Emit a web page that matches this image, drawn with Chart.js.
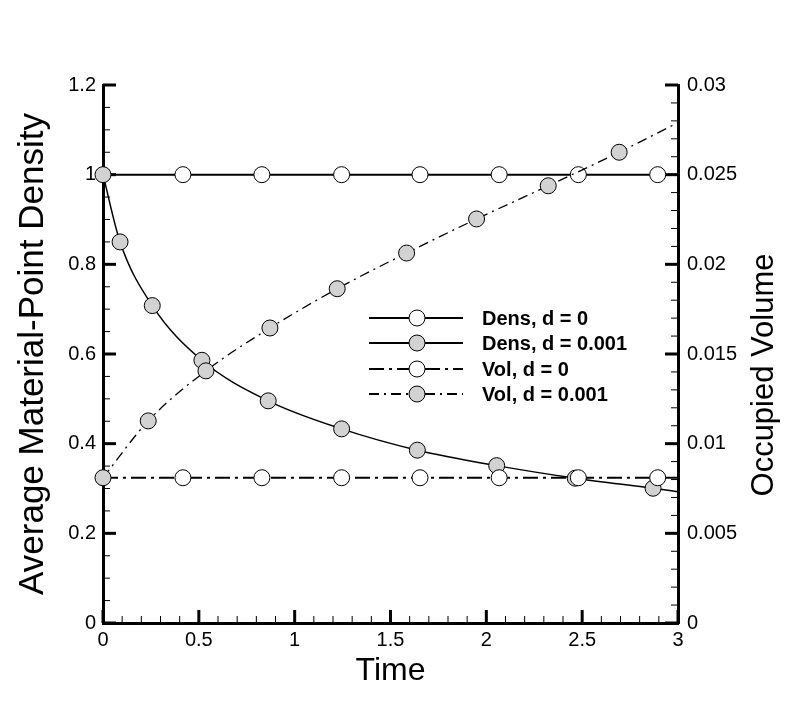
<!DOCTYPE html>
<html>
<head>
<meta charset="utf-8">
<script src="https://cdn.jsdelivr.net/npm/chart.js@4/dist/chart.umd.min.js"></script>
<style>
  html, body { margin: 0; padding: 0; background: #fff; }
  #wrap { width: 790px; height: 702px; }
</style>
</head>
<body>
<div id="wrap"><canvas id="chart"></canvas></div>
<script>
const xTicks = [0, 0.5, 1, 1.5, 2, 2.5, 3]
const densTicks = [0, 0.2, 0.4, 0.6, 0.8, 1, 1.2]
const volTicks = [0, 0.005, 0.01, 0.015, 0.02, 0.025, 0.03]

// d = 0 runs (flat)
const timeFlat = [0, 0.417, 0.829, 1.245, 1.654, 2.067, 2.48, 2.894, 3]
const densFlat = [1, 1, 1, 1, 1, 1, 1, 1, 1]
const volFlat = [0.0081, 0.0081, 0.0081, 0.0081, 0.0081, 0.0081, 0.0081, 0.0081, 0.0081]

// d = 0.001 runs
const timeDens = [0, 0.089, 0.257, 0.516, 0.862, 1.245, 1.64, 2.054, 2.464, 2.87, 3]
const densDamp = [1.0, 0.850, 0.708, 0.586, 0.4955, 0.433, 0.3855, 0.351, 0.323, 0.3006, 0.293]
const timeVol = [0, 0.236, 0.537, 0.871, 1.222, 1.584, 1.949, 2.323, 2.693, 3]
const volDamp = [0.0081, 0.01127, 0.01406, 0.01645, 0.01864, 0.02063, 0.02253, 0.02438, 0.02625, 0.0279]

const labels = ["Dens, d = 0", "Dens, d = 0.001", "Vol, d = 0", "Vol, d = 0.001"]

const FONT = "'Liberation Sans', Arial, sans-serif"
const GRAY = '#d2d2d2'

const toPoints = (xs, ys) => xs.map((x, i) => ({ x: x, y: ys[i] }))
// no marker on the closing point at t = 3
const markerAt = (len) => (ctx) => ctx.dataIndex === len - 1 ? 0 : 8
// flat runs: the t = 0 marker sits under the grey one, so skip it too
const flatMarker = (len) => (ctx) => (ctx.dataIndex === 0 || ctx.dataIndex === len - 1) ? 0 : 8

const setTicks = (values) => (scale) => {
  scale.ticks = values.map(v => ({ value: v }))
}

// inward tick marks, major + minor
const tickMarks = {
  id: 'tickMarks',
  beforeDatasetsDraw(chart) {
    const ctx = chart.ctx
    const area = chart.chartArea
    const defs = [
      { id: 'x', major: xTicks, step: 0.1 },
      { id: 'y', major: densTicks, step: 0.05 },
      { id: 'y2', major: volTicks, step: 0.001 },
    ]
    ctx.save()
    ctx.strokeStyle = '#000'
    defs.forEach(d => {
      const s = chart.scales[d.id]
      const n = Math.round((s.max - s.min) / d.step)
      for (let i = 0; i <= n; i++) {
        const v = s.min + i * d.step
        const isMajor = d.major.some(m => Math.abs(m - v) < d.step / 10)
        const len = isMajor ? 13 : 7
        ctx.lineWidth = isMajor ? 3 : 1
        const p = s.getPixelForValue(v)
        ctx.beginPath()
        if (d.id === 'x') {
          ctx.moveTo(p, area.bottom)
          ctx.lineTo(p, area.bottom - len)
        } else if (d.id === 'y') {
          ctx.moveTo(area.left, p)
          ctx.lineTo(area.left + len, p)
        } else {
          ctx.moveTo(area.right, p)
          ctx.lineTo(area.right - len, p)
        }
        ctx.stroke()
      }
    })
    ctx.restore()
  }
}

// legend inside the plot, line + marker + label
const legendBox = {
  id: 'legendBox',
  afterDraw(chart) {
    const ctx = chart.ctx
    const rows = [318, 343, 369, 394]
    chart.data.datasets.forEach((ds, i) => {
      const y = rows[i]
      ctx.save()
      ctx.strokeStyle = '#000'
      ctx.lineWidth = 2
      ctx.setLineDash(ds.borderDash || [])
      ctx.beginPath()
      ctx.moveTo(369, y)
      ctx.lineTo(409, y)
      ctx.stroke()
      ctx.beginPath()
      ctx.moveTo(425, y)
      ctx.lineTo(463, y)
      ctx.stroke()
      ctx.setLineDash([])
      ctx.beginPath()
      ctx.arc(417, y, 8, 0, Math.PI * 2)
      ctx.fillStyle = ds.pointBackgroundColor
      ctx.fill()
      ctx.lineWidth = 1
      ctx.stroke()
      ctx.fillStyle = '#000'
      ctx.font = 'bold 20px ' + FONT
      ctx.textBaseline = 'middle'
      ctx.fillText(ds.label, 482, y + 1)
      ctx.restore()
    })
  }
}

// right axis title reads bottom to top
const rightTitle = {
  id: 'rightTitle',
  afterDraw(chart) {
    const ctx = chart.ctx
    ctx.save()
    ctx.translate(764, 375)
    ctx.rotate(-Math.PI / 2)
    ctx.fillStyle = '#000'
    ctx.font = '31px ' + FONT
    ctx.textAlign = 'center'
    ctx.textBaseline = 'middle'
    ctx.fillText('Occupied Volume', 0, 0)
    ctx.restore()
  }
}

const axisGrid = { drawOnChartArea: false, drawTicks: false, color: 'rgba(0,0,0,0)' }
const axisBorder = { width: 3, color: '#000' }

new Chart(document.getElementById('chart'), {
  type: 'line',
  data: {
    datasets: [
      {
        label: labels[0],
        data: toPoints(timeFlat, densFlat),
        yAxisID: 'y',
        borderColor: '#000',
        borderWidth: 2,
        pointRadius: flatMarker(timeFlat.length),
        pointBackgroundColor: '#fff',
        pointBorderColor: '#000',
        pointBorderWidth: 1,
        clip: false,
        order: 4
      },
      {
        label: labels[1],
        data: toPoints(timeDens, densDamp),
        yAxisID: 'y',
        borderColor: '#000',
        borderWidth: 1.5,
        cubicInterpolationMode: 'monotone',
        pointRadius: markerAt(timeDens.length),
        pointBackgroundColor: GRAY,
        pointBorderColor: '#000',
        pointBorderWidth: 1,
        clip: false,
        order: 3
      },
      {
        label: labels[2],
        data: toPoints(timeFlat, volFlat),
        yAxisID: 'y2',
        borderColor: '#000',
        borderWidth: 2,
        borderDash: [15, 5, 3, 5],
        pointRadius: flatMarker(timeFlat.length),
        pointBackgroundColor: '#fff',
        pointBorderColor: '#000',
        pointBorderWidth: 1,
        clip: false,
        order: 2
      },
      {
        label: labels[3],
        data: toPoints(timeVol, volDamp),
        yAxisID: 'y2',
        borderColor: '#000',
        borderWidth: 1.3,
        borderDash: [10, 5, 2, 5],
        cubicInterpolationMode: 'monotone',
        pointRadius: markerAt(timeVol.length),
        pointBackgroundColor: GRAY,
        pointBorderColor: '#000',
        pointBorderWidth: 1,
        clip: false,
        order: 1
      }
    ]
  },
  options: {
    responsive: true,
    maintainAspectRatio: false,
    animation: false,
    events: [],
    layout: { padding: { top: 85 } },
    scales: {
      x: {
        type: 'linear',
        position: 'bottom',
        min: 0,
        max: 3,
        afterBuildTicks: setTicks(xTicks),
        afterFit: (s) => { s.height = 79 },
        grid: axisGrid,
        border: axisBorder,
        ticks: {
          color: '#000',
          padding: 5,
          maxRotation: 0,
          autoSkip: false,
          font: { family: FONT, size: 20 },
          callback: (v) => String(v)
        },
        title: {
          display: true,
          text: 'Time',
          color: '#000',
          font: { family: FONT, size: 32 },
          padding: { top: 0, bottom: 12 }
        }
      },
      y: {
        type: 'linear',
        position: 'left',
        min: 0,
        max: 1.2,
        afterBuildTicks: setTicks(densTicks),
        afterFit: (s) => { s.width = 103 },
        grid: axisGrid,
        border: axisBorder,
        ticks: {
          color: '#000',
          padding: 7,
          autoSkip: false,
          font: { family: FONT, size: 20 },
          callback: (v) => String(v)
        },
        title: {
          display: true,
          text: 'Average Material-Point Density',
          color: '#000',
          font: { family: FONT, size: 35 },
          padding: { top: 12, bottom: 0 }
        }
      },
      y2: {
        type: 'linear',
        position: 'right',
        min: 0,
        max: 0.03,
        afterBuildTicks: setTicks(volTicks),
        afterFit: (s) => { s.width = 112 },
        grid: axisGrid,
        border: axisBorder,
        ticks: {
          color: '#000',
          padding: 9,
          autoSkip: false,
          font: { family: FONT, size: 20 },
          callback: (v) => String(v)
        }
      }
    },
    plugins: {
      legend: { display: false },
      tooltip: { enabled: false }
    }
  },
  plugins: [tickMarks, legendBox, rightTitle]
})
</script>
</body>
</html>
